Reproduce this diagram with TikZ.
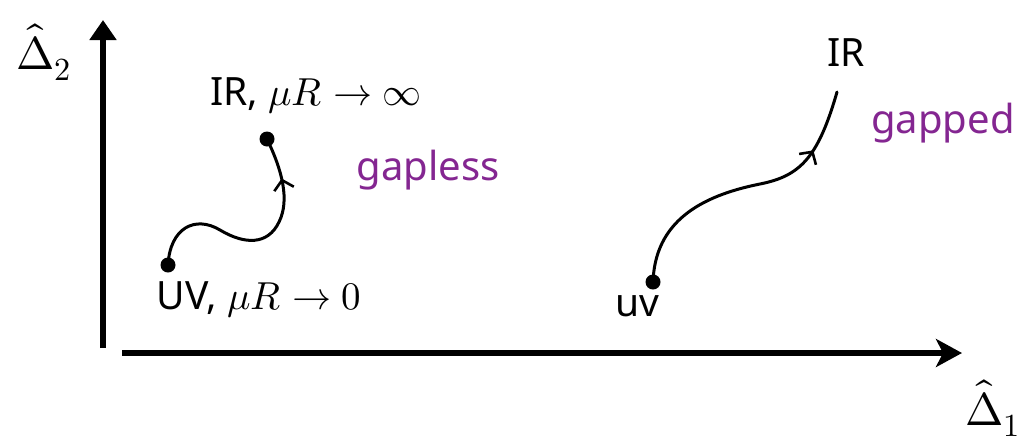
\documentclass[tikz,border=0pt]{standalone}
\usepackage{fontspec}
\usepackage{unicode-math}
\setmainfont{Noto Sans}
\setmathfont{Latin Modern Math}
\usetikzlibrary{arrows.meta,decorations.markings}
\definecolor{gappurple}{RGB}{132,38,145}
\tikzset{
  axis/.style={line width=6.5pt},
  flow/.style={line width=3pt, line cap=round},
  dotnode/.style={circle, fill=black, inner sep=0pt, minimum size=15pt},
  lbl/.style={font=\fontsize{39}{44}\selectfont, inner sep=0pt},
  phase/.style={font=\fontsize{40}{46}\selectfont, text=gappurple, inner sep=0pt},
  axlbl/.style={font=\fontsize{46}{52}\selectfont, inner sep=0pt},
  midarrow/.style={postaction={decorate, decoration={markings,
    mark=at position #1 with {\arrow{Straight Barb[length=9pt,width=20pt,line width=2.6pt]}}}}}
}
\begin{document}
\begin{tikzpicture}[x=1pt,y=-1pt]
\useasboundingbox (0,0) rectangle (1033,445);
% axes
\coordinate (origin) at (103,348);
\coordinate (ytop) at (103,20);
\coordinate (xstart) at (122,353);
\coordinate (xend) at (962,353);
\draw[axis, -{Triangle[length=20pt,width=26pt]}] (origin) -- (ytop);
\draw[axis, -{Stealth[length=26pt,width=28pt,inset=7pt]}] (xstart) -- (xend);
\node[axlbl] (d2) at (44,52) {$\hat{\Delta}_{2}$};
\node[axlbl] (d1) at (993,408) {$\hat{\Delta}_{1}$};
% left flow (gapless)
\node[dotnode] (uv1) at (168,265) {};
\node[dotnode] (ir1) at (267,139) {};
\draw[flow, midarrow=0.82] (uv1.center) .. controls (170,228) and (195,215) .. (220,230)
  .. controls (245,245) and (268,245) .. (279,222)
  .. controls (290,200) and (282,170) .. (ir1.center);
\node[lbl] (irlbl1) at (316,96) {IR, $\mu R\to\infty$};
\node[lbl] (uvlbl1) at (259,300) {UV, $\mu R\to 0$};
\node[phase] (gapless) at (428,170) {gapless};
% right flow (gapped)
\node[dotnode] (uv2) at (653,282) {};
\coordinate (ir2) at (837,92);
\draw[flow, midarrow=0.78] (uv2.center) .. controls (655,222) and (700,196) .. (760,184)
  .. controls (800,176) and (818,158) .. (ir2);
\node[lbl] (irlbl2) at (846,53) {IR};
\node[lbl] (uvlbl2) at (637,306) {uv};
\node[phase] (gapped) at (943,123) {gapped};
\end{tikzpicture}
\end{document}
